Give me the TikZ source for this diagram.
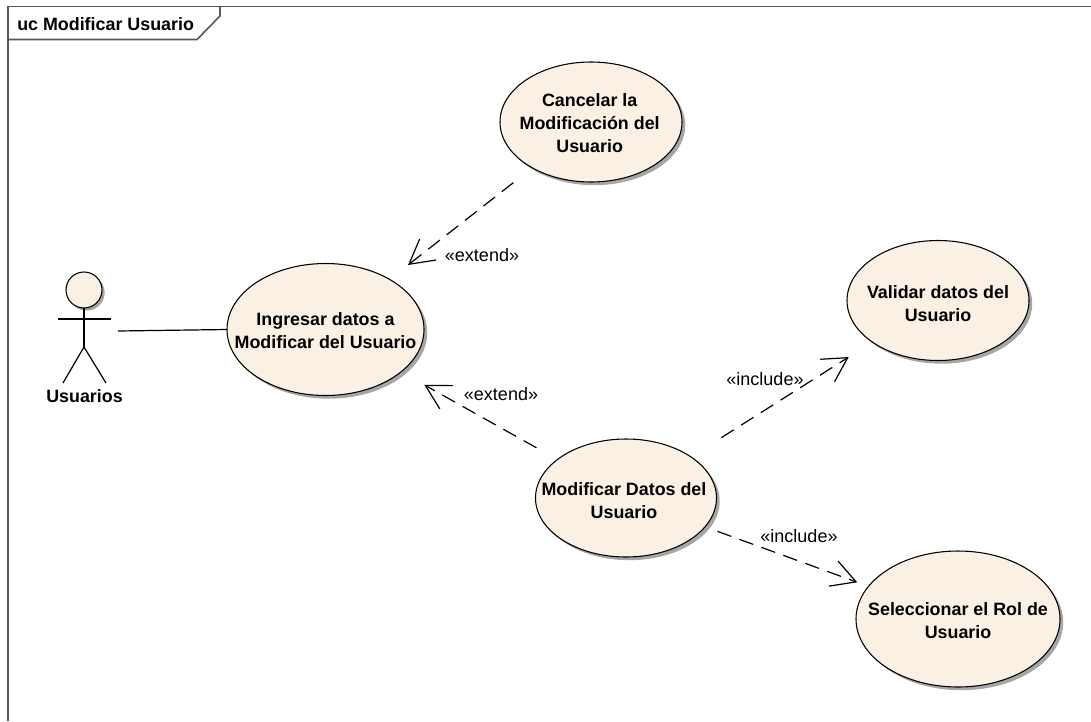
\documentclass[tikz,border=0pt]{standalone}
\usepackage{fontspec}
\setmainfont{Liberation Sans}
\usetikzlibrary{arrows.meta,positioning,shapes.geometric,shadows}
\definecolor{ucfill}{HTML}{FAF1E4}
\tikzset{
  usecase/.style={ellipse,draw,thick,fill=ucfill,inner sep=0pt,outer sep=0pt,
    copy shadow={draw=none,fill=black!35,shadow xshift=2.4pt,shadow yshift=-2.4pt}},
  uctext/.style={align=center,inner sep=0pt,font=\fontsize{13.4}{17.25}\selectfont\bfseries},
  dep/.style={line width=0.9pt,dash pattern=on 11pt off 6.5pt,-{Straight Barb[length=18pt,width=20pt,line width=0.9pt]}},
  stereo/.style={font=\fontsize{13.5}{15}\selectfont},
  boldlabel/.style={font=\fontsize{13.4}{15}\selectfont\bfseries,inner sep=0pt},
  framelin/.style={line width=1.2pt,black!65}
}
\begin{document}
\begin{tikzpicture}[x=0.75pt,y=-0.75pt]
\useasboundingbox (0,0) rectangle (1091,721);
% Frame
\draw[framelin] (8,721) -- (8,6.5) -- (1091,6.5);
\draw[framelin] (8,39.5) -- (197,39.5) -- (220,16) -- (220,6.5);
\node[boldlabel,anchor=west] (title) at (17,24) {uc Modificar Usuario};

% Use cases
\node[usecase,minimum width=147.75pt,minimum height=99pt,label={[uctext,yshift=-0.5pt]center:Ingresar datos a\\Modificar del Usuario}] (ingresar) at (325.5,329.5) {};
\node[usecase,minimum width=136.5pt,minimum height=90pt,label={[uctext,xshift=-1pt,yshift=-0.75pt]center:Cancelar la\\Modificación del\\Usuario}] (cancelar) at (591,122) {};
\node[usecase,minimum width=136.5pt,minimum height=90pt,label={[uctext,yshift=-2.5pt]center:Validar datos del\\Usuario}] (validar) at (938,300.5) {};
\node[usecase,minimum width=135.75pt,minimum height=88.5pt,label={[uctext,xshift=-1.5pt,yshift=-2.25pt]center:Modificar Datos del\\Usuario}] (modificar) at (626,498) {};
\node[usecase,minimum width=153pt,minimum height=102pt,label={[uctext,yshift=-1.5pt]center:Seleccionar el Rol de\\Usuario}] (seleccionar) at (958,619) {};

% Actor
\node[circle,draw,thick,fill=ucfill,minimum size=27pt,inner sep=0pt,outer sep=0pt,
  copy shadow={draw=none,fill=black!35,shadow xshift=2pt,shadow yshift=-2pt}] (head) at (84,290) {};
\coordinate (hip) at (84,347);
\coordinate (armleft) at (58,319);
\coordinate (armright) at (111,319);
\coordinate (footleft) at (63,383);
\coordinate (footright) at (106,383);
\draw[line width=0.9pt] (head.south) -- (hip);
\draw[line width=0.9pt] (armleft) -- (armright);
\draw[line width=0.9pt] (footleft) -- (hip) -- (footright);
\node[boldlabel] (usuarios) at (84.5,396) {Usuarios};
\coordinate (actorend) at (118,331);
\draw[line width=0.9pt] (actorend) -- (ingresar.west);

% Relations
\draw[dep,shorten <=18pt,shorten >=17.5pt] (cancelar) -- (ingresar);
\draw[dep,shorten <=18pt,shorten >=20pt] (modificar) -- (ingresar);
\draw[dep,shorten <=27pt,shorten >=21pt] (modificar) -- (validar);
\draw[dep,shorten <=10pt,shorten >=9pt] (modificar) -- (seleccionar);
\node[stereo] (extendcancel) at (482,255) {«extend»};
\node[stereo] (extendmod) at (501,394) {«extend»};
\node[stereo] (includeval) at (765,379) {«include»};
\node[stereo] (includerol) at (799,536) {«include»};
\end{tikzpicture}
\end{document}
